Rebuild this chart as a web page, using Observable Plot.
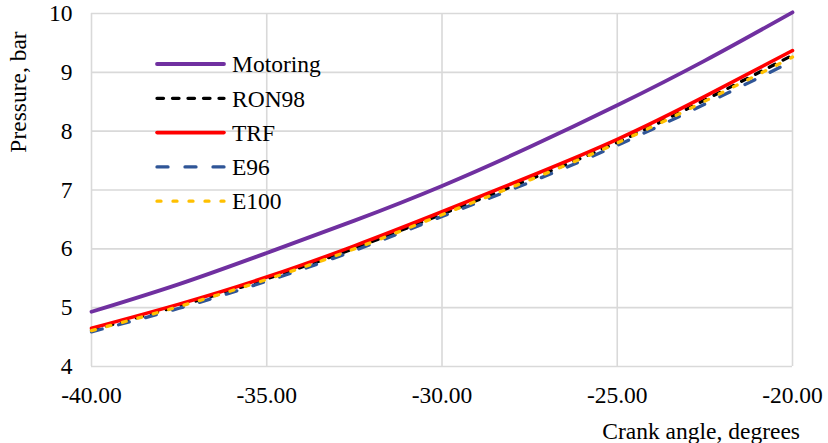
<!DOCTYPE html>
<html>
<head>
<meta charset="utf-8">
<script src="https://cdn.jsdelivr.net/npm/d3@7"></script>
<script src="https://cdn.jsdelivr.net/npm/@observablehq/plot@0.6"></script>
<style>
  html, body { margin: 0; padding: 0; background: #fff; }
  #chart { position: relative; width: 828px; height: 443px; }
  #chart svg, #chart svg text {
    font-family: "Liberation Serif", "Times New Roman", Tinos, serif !important;
    font-size: 23.5px !important;
    fill: #000;
  }
</style>
</head>
<body>
<div id="chart"></div>
<script>
// ---- data ----
const angles   = [-40, -37.5, -35, -32.5, -30, -27.5, -25, -22.5, -20];
const motoring = [4.93, 5.40, 5.93, 6.48, 7.07, 7.73, 8.44, 9.20, 10.02];
const ron98    = [4.62, 5.03, 5.49, 6.01, 6.59, 7.18, 7.81, 8.53, 9.29];
const trf      = [4.65, 5.06, 5.52, 6.05, 6.63, 7.23, 7.86, 8.59, 9.37];
const e96      = [4.59, 4.99, 5.45, 5.97, 6.55, 7.13, 7.76, 8.46, 9.19];
const e100     = [4.61, 5.02, 5.48, 6.00, 6.58, 7.17, 7.80, 8.51, 9.26];

const seriesNames = ["Motoring", "RON98", "TRF", "E96", "E100"];
const seriesValues = [motoring, ron98, trf, e96, e100];
const xTicks = [-40, -35, -30, -25, -20];
const yTicks = [4, 5, 6, 7, 8, 9, 10];
const xTitle = "Crank angle, degrees";
const yTitle = "Pressure, bar";

// styles
const styles = {
  "Motoring": {stroke: "#7030A0", width: 3.8, dash: null, cap: "round"},
  "RON98":    {stroke: "#000000", width: 3.3, dash: "6.5,9", cap: "round"},
  "TRF":      {stroke: "#FF0000", width: 3.6, dash: null, cap: "round"},
  "E96":      {stroke: "#2F5597", width: 3.3, dash: "11,17", cap: "round"},
  "E100":     {stroke: "#FFC000", width: 3.3, dash: "4,12", cap: "round"}
};

const rows = seriesNames.map((name, i) => ({
  name,
  points: angles.map((a, j) => ({angle: a, p: seriesValues[i][j]}))
}));

const marginLeft = 91, marginRight = 36, marginTop = 13, marginBottom = 77;

const lineMarks = rows.map(r => Plot.line(r.points, {
  x: "angle", y: "p",
  stroke: styles[r.name].stroke,
  strokeWidth: styles[r.name].width,
  strokeDasharray: styles[r.name].dash,
  strokeLinecap: styles[r.name].cap,
  curve: "natural"
}));

const plot = Plot.plot({
  width: 828,
  height: 443,
  marginLeft, marginRight, marginTop, marginBottom,
  x: {domain: [-40, -20], ticks: xTicks, tickFormat: d => d.toFixed(2), tickSize: 0, tickPadding: 20, label: null},
  y: {domain: [4, 10], ticks: yTicks, tickFormat: d => String(d), tickSize: 0, tickPadding: 19, label: null},
  marks: [
    Plot.gridX(xTicks, {stroke: "#d9d9d9", strokeOpacity: 1, strokeWidth: 1.6}),
    Plot.gridY(yTicks, {stroke: "#d9d9d9", strokeOpacity: 1, strokeWidth: 1.6}),
    ...lineMarks
  ]
});

const container = document.getElementById("chart");
container.appendChild(plot);

const svg = d3.select(plot);
// axis titles
svg.append("text")
  .attr("x", 800).attr("y", 439)
  .attr("text-anchor", "end")
  .text(xTitle);
svg.append("text")
  .attr("transform", "translate(18,92) rotate(-90)")
  .attr("text-anchor", "middle")
  .attr("dy", "0.35em")
  .text(yTitle);

// in-plot legend
const lg = svg.append("g").attr("class", "legend").attr("text-anchor", "start");
seriesNames.forEach((name, i) => {
  const y = 64 + i * 34.3;
  const s = styles[name];
  lg.append("line")
    .attr("x1", 157).attr("x2", 224).attr("y1", y).attr("y2", y)
    .attr("stroke", s.stroke).attr("stroke-width", s.width)
    .attr("stroke-dasharray", s.dash)
    .attr("stroke-linecap", s.cap);
  lg.append("text")
    .attr("x", 232).attr("y", y).attr("dy", "0.35em")
    .attr("text-anchor", "start")
    .text(name);
});
</script>
</body>
</html>
